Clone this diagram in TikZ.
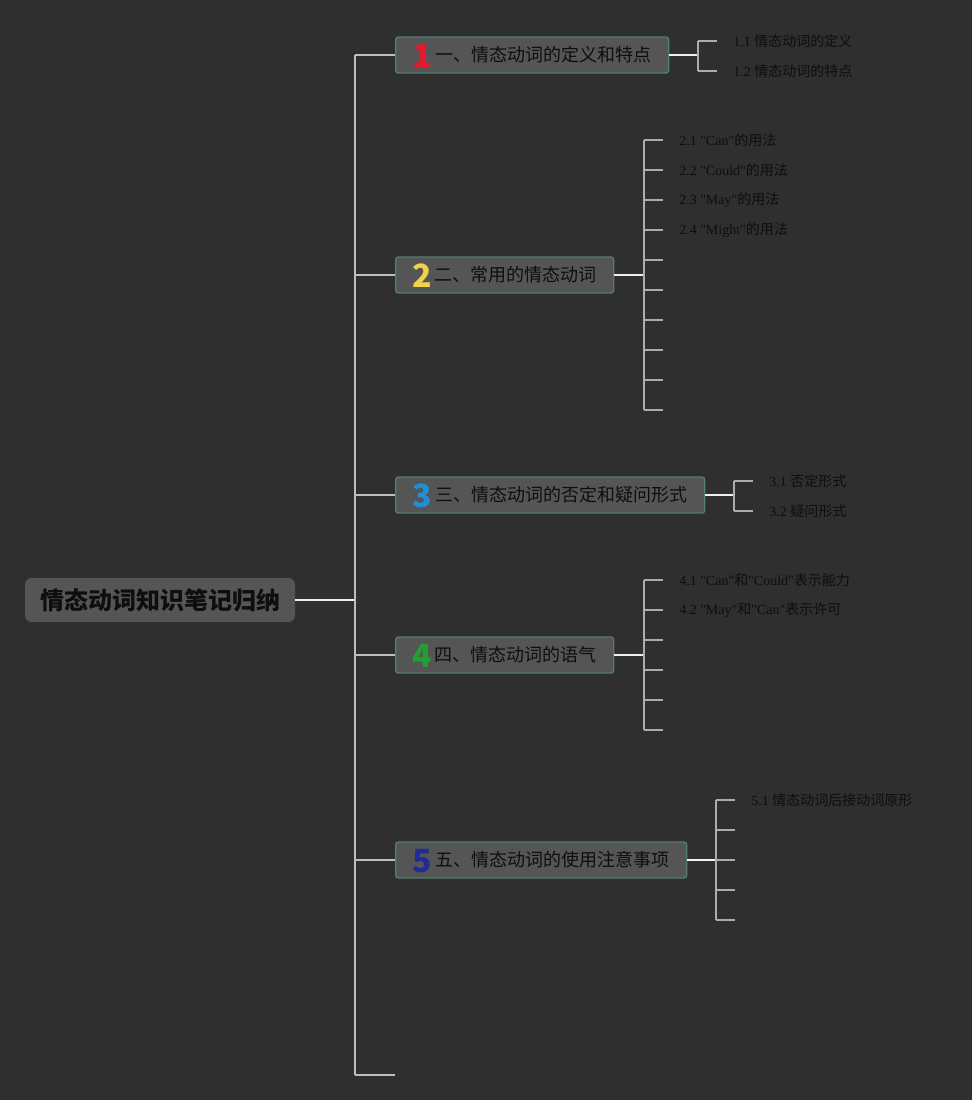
\documentclass[tikz,border=0pt]{standalone}
\usepackage{fontspec}
\setmainfont{Noto Sans CJK SC}
\newfontfamily\lat{Liberation Serif}[Ligatures=TeXOff]
\usepackage{tikz}
\usetikzlibrary{positioning,calc}
\definecolor{xbg}{RGB}{47,47,47}
\definecolor{xbox}{RGB}{85,85,85}
\definecolor{xedge}{RGB}{80,128,110}
\definecolor{xink}{RGB}{14,14,14}
\definecolor{xline}{RGB}{240,240,240}
\definecolor{xtrunk}{RGB}{190,190,190}
\definecolor{xtick}{RGB}{172,172,172}
\definecolor{xred}{RGB}{226,28,48}
\definecolor{xyellow}{RGB}{242,210,70}
\definecolor{xsky}{RGB}{30,144,214}
\definecolor{xgreen}{RGB}{30,160,50}
\definecolor{xnavy}{RGB}{32,44,150}
\newcommand{\bignum}[2]{\smash{\raisebox{-4pt}{\textcolor{#1}{\fontsize{24}{24}\selectfont\bfseries #2}}}\,}

\begin{document}
\begin{tikzpicture}[x=0.75pt, y=-0.75pt,
  root/.style={fill=xbox, rounded corners=5pt, minimum width=202.5pt,
               minimum height=33pt, font=\fontsize{18}{20}\selectfont\bfseries, text=xink},
  topic/.style={draw=xedge, line width=1pt, fill=xbox, rounded corners=2pt, anchor=west,
                minimum height=27pt, inner xsep=8pt, inner ysep=0pt,
                font=\fontsize{13.5}{15}\selectfont, text=xink},
  leaf/.style={anchor=west, inner xsep=12pt, inner ysep=1pt,
               font=\fontsize{10.5}{12}\selectfont, text=xink},
  link/.style={draw=xline, line width=1.5pt},
  trunk/.style={draw=xtrunk, line width=1.5pt},
  tick/.style={draw=xtick, line width=1.5pt}
]
  \fill[xbg] (0,0) rectangle (972,1100);
  \useasboundingbox (0,0) rectangle (972,1100);

  \node[root] (root) at (160,600) {情态动词知识笔记归纳};

  \node[topic, minimum width=204.75pt] (n1) at (395,55)  {\bignum{xred}{1}一、情态动词的定义和特点};
  \node[topic, minimum width=163.5pt]  (n2) at (395,275) {\bignum{xyellow}{2}二、常用的情态动词};
  \node[topic, minimum width=231.75pt] (n3) at (395,495) {\bignum{xsky}{3}三、情态动词的否定和疑问形式};
  \node[topic, minimum width=163.5pt]  (n4) at (395,655) {\bignum{xgreen}{4}四、情态动词的语气};
  \node[topic, minimum width=218.25pt] (n5) at (395,860) {\bignum{xnavy}{5}五、情态动词的使用注意事项};
  \coordinate (tail) at (395,1075);

  % trunk
  \coordinate (hub) at (355,600);
  \draw[link]  (root) -- (hub);
  \draw[trunk] (hub |- n1) -- (hub |- tail);
  \foreach \k in {1,...,5} { \draw[trunk] (hub |- n\k) -- (n\k.west); }
  \draw[trunk] (hub |- tail) -- (tail);

  % branch 1
  \coordinate (j1) at (698,55);
  \node[leaf] (l11) at (717,41) {{\lat 1.1 }情态动词的定义};
  \node[leaf] (l12) at (717,71) {{\lat 1.2 }情态动词的特点};
  \draw[link] (n1) -- (j1);
  \draw[tick] (j1 |- l11) -- (j1 |- l12);
  \draw[tick] (j1 |- l11) -- (l11.west);
  \draw[tick] (j1 |- l12) -- (l12.west);

  % branch 2
  \coordinate (j2) at (644,275);
  \node[leaf] (l21) at (663,140) {{\lat 2.1 "Can"}的用法};
  \node[leaf] (l22) at (663,170) {{\lat 2.2 "Could"}的用法};
  \node[leaf] (l23) at (663,200) {{\lat 2.3 "May"}的用法};
  \node[leaf] (l24) at (663,230) {{\lat 2.4 "Might"}的用法};
  \draw[link] (n2) -- (j2);
  \foreach \i in {1,...,4} { \draw[tick] (j2 |- l2\i) -- (l2\i.west); }
  \foreach \i/\y in {5/260,6/290,7/320,8/350,9/380,10/410} {
    \coordinate (e2-\i) at (663,\y);
    \draw[tick] (j2 |- e2-\i) -- (e2-\i);
  }
  \draw[tick] (j2 |- l21) -- (j2 |- e2-10);

  % branch 3
  \coordinate (j3) at (734,495);
  \node[leaf] (l31) at (753,481) {{\lat 3.1 }否定形式};
  \node[leaf] (l32) at (753,511) {{\lat 3.2 }疑问形式};
  \draw[link] (n3) -- (j3);
  \draw[tick] (j3 |- l31) -- (j3 |- l32);
  \draw[tick] (j3 |- l31) -- (l31.west);
  \draw[tick] (j3 |- l32) -- (l32.west);

  % branch 4
  \coordinate (j4) at (644,655);
  \node[leaf] (l41) at (663,580) {{\lat 4.1 "Can"}和{\lat "Could"}表示能力};
  \node[leaf] (l42) at (663,610) {{\lat 4.2 "May"}和{\lat "Can"}表示许可};
  \draw[link] (n4) -- (j4);
  \draw[tick] (j4 |- l41) -- (l41.west);
  \draw[tick] (j4 |- l42) -- (l42.west);
  \foreach \i/\y in {3/640,4/670,5/700,6/730} {
    \coordinate (e4-\i) at (663,\y);
    \draw[tick] (j4 |- e4-\i) -- (e4-\i);
  }
  \draw[tick] (j4 |- l41) -- (j4 |- e4-6);

  % branch 5
  \coordinate (j5) at (716,860);
  \node[leaf] (l51) at (735,800) {{\lat 5.1 }情态动词后接动词原形};
  \draw[link] (n5) -- (j5);
  \draw[tick] (j5 |- l51) -- (l51.west);
  \foreach \i/\y in {2/830,3/860,4/890,5/920} {
    \coordinate (e5-\i) at (735,\y);
    \draw[tick] (j5 |- e5-\i) -- (e5-\i);
  }
  \draw[tick] (j5 |- l51) -- (j5 |- e5-5);
\end{tikzpicture}
\end{document}
